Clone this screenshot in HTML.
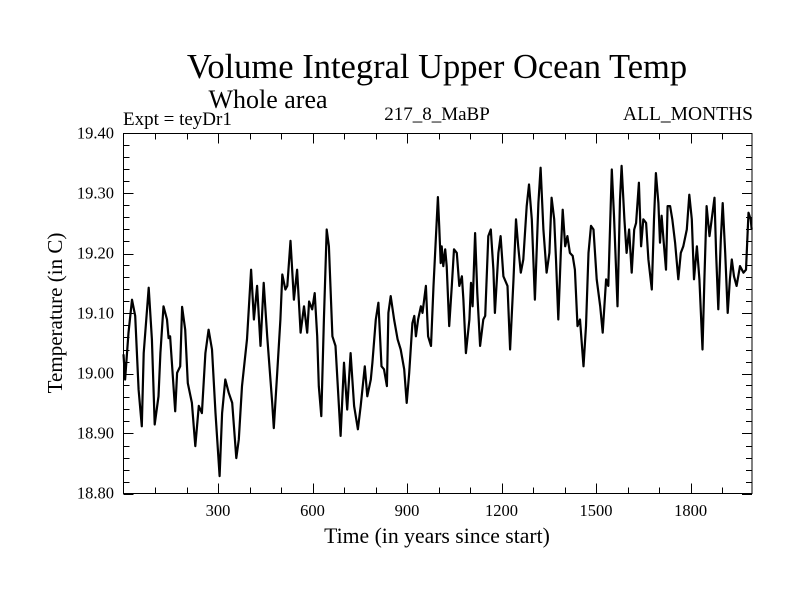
<!DOCTYPE html>
<html><head><meta charset="utf-8"><style>
body{margin:0;background:#fff;}
svg{display:block;font-family:"Liberation Serif",serif;}
</style></head><body>
<svg id="chart" width="800" height="600" viewBox="0 0 800 600">
<rect width="800" height="600" fill="#fff"/>
<text x="437" y="78" font-size="34.5" text-anchor="middle">Volume Integral Upper Ocean Temp</text>
<text x="268" y="108" font-size="26" text-anchor="middle">Whole area</text>
<text x="123" y="125" font-size="19">Expt = teyDr1</text>
<text x="437" y="120" font-size="19" text-anchor="middle">217_8_MaBP</text>
<text x="753" y="120" font-size="19.5" text-anchor="end">ALL_MONTHS</text>
<text x="437" y="543" font-size="21.7" text-anchor="middle">Time (in years since start)</text>
<text transform="translate(62,313) rotate(-90)" font-size="21" text-anchor="middle">Temperature (in C)</text>
<g id="axes"></g>
<path id="series" fill="none" stroke="#000" stroke-width="2.2" stroke-linejoin="round"/>
<rect x="123.5" y="133.5" width="628.5" height="360" fill="none" stroke="#000" stroke-width="1"/>
</svg>
<script>
const years=[0,5,16,27,37,48,58,64,80,90,99,111,117,127,138,143,148,164,170,180,186,196,204,217,228,239,249,260,270,281,292,305,313,323,334,345,358,366,376,392,405,414,424,435,445,456,472,477,488,498,504,514,520,530,541,551,562,573,583,589,599,607,615,620,628,636,645,652,663,673,689,700,710,721,732,744,753,766,774,785,790,801,809,819,827,836,841,848,859,870,880,891,899,907,917,923,928,935,944,949,960,967,976,984,998,1002,1007,1010,1015,1021,1026,1034,1042,1049,1058,1066,1074,1079,1087,1098,1103,1108,1116,1123,1132,1142,1148,1158,1166,1174,1179,1190,1197,1206,1219,1227,1238,1246,1253,1261,1269,1280,1287,1296,1306,1317,1324,1333,1343,1352,1359,1367,1373,1380,1388,1394,1402,1409,1417,1426,1433,1441,1449,1460,1468,1476,1484,1492,1502,1513,1521,1532,1539,1550,1557,1568,1576,1581,1590,1597,1605,1613,1621,1627,1636,1643,1650,1659,1666,1677,1684,1690,1698,1703,1708,1714,1722,1727,1735,1742,1751,1761,1769,1777,1788,1796,1804,1811,1820,1828,1838,1844,1851,1860,1867,1876,1881,1888,1896,1902,1910,1918,1925,1931,1938,1946,1957,1968,1976,1984,1991,1994];
const temps=[19.032,18.990,19.068,19.123,19.096,18.973,18.912,19.034,19.143,19.057,18.915,18.962,19.034,19.112,19.090,19.059,19.062,18.937,19.001,19.012,19.111,19.073,18.984,18.951,18.879,18.946,18.934,19.034,19.073,19.040,18.934,18.829,18.934,18.990,18.968,18.951,18.859,18.890,18.979,19.057,19.173,19.090,19.146,19.046,19.151,19.062,18.951,18.909,19.001,19.090,19.165,19.140,19.146,19.221,19.123,19.173,19.068,19.112,19.068,19.120,19.107,19.134,19.062,18.979,18.929,19.090,19.240,19.212,19.062,19.046,18.896,19.018,18.940,19.034,18.946,18.907,18.946,19.012,18.962,18.990,19.018,19.090,19.118,19.012,19.007,18.979,19.101,19.129,19.090,19.057,19.040,19.007,18.951,19.001,19.084,19.096,19.062,19.090,19.112,19.101,19.146,19.062,19.046,19.146,19.294,19.246,19.184,19.212,19.179,19.207,19.179,19.079,19.146,19.207,19.201,19.146,19.162,19.123,19.034,19.090,19.151,19.112,19.234,19.134,19.046,19.090,19.096,19.229,19.240,19.173,19.101,19.201,19.229,19.162,19.146,19.040,19.157,19.257,19.212,19.168,19.190,19.279,19.315,19.257,19.123,19.284,19.343,19.240,19.168,19.201,19.293,19.257,19.190,19.090,19.201,19.273,19.212,19.229,19.201,19.196,19.173,19.079,19.090,19.012,19.079,19.201,19.246,19.240,19.157,19.112,19.068,19.157,19.146,19.340,19.263,19.112,19.290,19.346,19.257,19.201,19.240,19.168,19.240,19.251,19.318,19.212,19.257,19.251,19.190,19.140,19.257,19.334,19.284,19.218,19.263,19.223,19.173,19.279,19.279,19.257,19.218,19.157,19.201,19.212,19.240,19.298,19.257,19.157,19.212,19.157,19.040,19.157,19.279,19.229,19.257,19.293,19.201,19.107,19.223,19.284,19.201,19.101,19.157,19.190,19.162,19.146,19.179,19.168,19.173,19.268,19.257,19.240];
const xTicks=[300,600,900,1200,1500,1800];
const yTicks=[18.80,18.90,19.00,19.10,19.20,19.30,19.40];
const X0=123.5,X1=752,Y0=493.5,Y1=133.5,XMAX=1995,YMIN=18.8,YMAX=19.4;
const sx=v=>X0+(v/XMAX)*(X1-X0);
const sy=v=>Y0-(v-YMIN)/(YMAX-YMIN)*(Y0-Y1);
const NS='http://www.w3.org/2000/svg';
const g=document.getElementById('axes');
function line(x1,y1,x2,y2,name){const l=document.createElementNS(NS,'line');l.setAttribute('x1',x1);l.setAttribute('y1',y1);l.setAttribute('x2',x2);l.setAttribute('y2',y2);l.setAttribute('stroke','#000');l.setAttribute('stroke-width','1');


g.appendChild(l);}
function txt(x,y,s,anchor,name){const t=document.createElementNS(NS,'text');t.setAttribute('x',x);t.setAttribute('y',y);t.setAttribute('font-size','16.5');t.setAttribute('text-anchor',anchor);t.textContent=s;


g.appendChild(t);}
for(let v=100;v<XMAX;v+=100){const x=Math.round(sx(v))+0.5;const major=v%300===0;const len=major?10:6;
line(x,Y0,x,Y0-len,'x-tick');line(x,Y1,x,Y1+len,'x-tick-top');}
xTicks.forEach(v=>txt(sx(v),516,String(v),'middle','x-tick-label'));
for(let i=0;i<=30;i++){const v=YMIN+i*0.02;const y=Math.round(sy(v))+0.5;const major=i%5===0;const len=major?10:6;
line(X0,y,X0+len,y,'y-tick');line(X1,y,X1-len,y,'y-tick-right');}
yTicks.forEach(v=>txt(114,sy(v)+5,v.toFixed(2),'end','y-tick-label'));
let d='';years.forEach((yr,i)=>{d+=(i?'L':'M')+sx(yr).toFixed(1)+','+sy(temps[i]).toFixed(1);});
document.getElementById('series').setAttribute('d',d);
</script>
</body></html>
